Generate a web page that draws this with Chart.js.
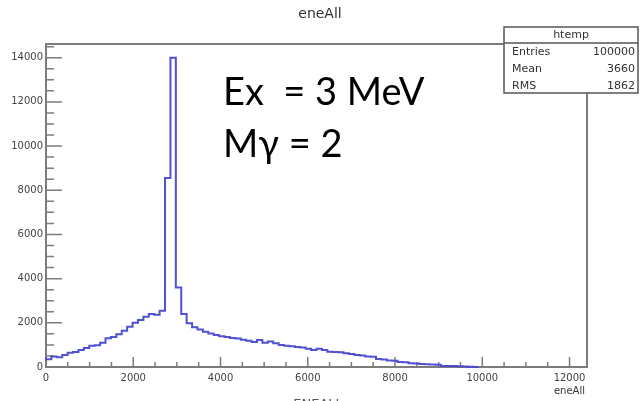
<!DOCTYPE html>
<html>
<head>
<meta charset="utf-8">
<script src="https://cdn.jsdelivr.net/npm/chart.js@4/dist/chart.umd.min.js"></script>
<style>
  html, body { margin: 0; padding: 0; background: #fff; }
  #wrap { position: relative; width: 640px; height: 401px; }
</style>
</head>
<body>
<div id="wrap"><canvas id="hist" width="640" height="401"></canvas></div>
<script>
// histogram of eneAll, bins of 124 starting at 0; axis runs to 12400
const binWidth = 124;
const xMax = 12400;
const yMax = 14620;
const counts = [
  440, 350, 470, 440, 540, 650, 680, 770, 860, 960,
  980, 1100, 1300, 1360, 1480, 1640, 1820, 2000, 2130, 2280,
  2400, 2370, 2550, 8550, 14000, 3600, 2400, 1980, 1800, 1700,
  1600, 1520, 1450, 1390, 1360, 1310, 1290, 1230, 1190, 1130,
  1220, 1100, 1150, 1070, 1000, 960, 940, 900, 880, 830,
  770, 830, 770, 690, 680, 670, 620, 590, 540, 520,
  470, 460, 360, 340, 290, 280, 230, 220, 170, 160,
  140, 130, 110, 100, 50, 45, 40, 35, 20, 10
];
const xTicks = [0, 2000, 4000, 6000, 8000, 10000, 12000];
const yTicks = [0, 2000, 4000, 6000, 8000, 10000, 12000, 14000];
const statsTitle = 'htemp';
const statsRows = [['Entries', '100000'], ['Mean', '3660'], ['RMS', '1862']];
const noteLines = ['Ex  = 3 MeV', 'M\u03b3 = 2'];
const histTitle = 'eneAll';
const xTitle = 'eneAll';

const points = counts.map((c, i) => ({x: i * binWidth, y: c}));
points.push({x: counts.length * binWidth, y: 0});

const rootFrame = {
  id: 'rootFrame',
  beforeDatasetsDraw(chart) {
    const {ctx, chartArea: {left, right, top, bottom}, scales: {x, y}} = chart;
    ctx.save();
    ctx.strokeStyle = '#7c7c7c';
    ctx.lineWidth = 2;
    ctx.strokeRect(left, top, right - left, bottom - top);
    ctx.lineWidth = 1.5;
    ctx.beginPath();
    for (let v = 0; v <= x.max; v += 500) {
      const px = x.getPixelForValue(v);
      const len = v % 2000 === 0 ? 10 : 5;
      ctx.moveTo(px, bottom);
      ctx.lineTo(px, bottom - len);
    }
    for (let v = 0; v <= y.max; v += 500) {
      const py = y.getPixelForValue(v);
      const len = v % 2000 === 0 ? 16 : 8;
      ctx.moveTo(left, py);
      ctx.lineTo(left + len, py);
    }
    ctx.stroke();
    ctx.restore();
  },
  afterDraw(chart) {
    const {ctx, chartArea: {right}} = chart;
    ctx.save();
    ctx.fillStyle = '#333';
    ctx.textBaseline = 'middle';

    // titles
    ctx.font = '14px "DejaVu Sans"';
    ctx.textAlign = 'center';
    ctx.fillText(histTitle, 320, 14);
    ctx.font = '10px "DejaVu Sans"';
    ctx.textAlign = 'right';
    ctx.fillText(xTitle, right - 2, 391);
    // axis title cut off by the bottom edge
    ctx.font = '13px "DejaVu Sans"';
    ctx.textAlign = 'center';
    ctx.textBaseline = 'top';
    ctx.fillStyle = '#555';
    ctx.fillText(xTitle.toUpperCase(), 318, 398);

    // stats box
    const bx = 504, by = 27, bw = 134, bh = 66;
    ctx.fillStyle = '#fff';
    ctx.fillRect(bx, by, bw, bh);
    ctx.strokeStyle = '#555';
    ctx.lineWidth = 1.5;
    ctx.strokeRect(bx, by, bw, bh);
    ctx.beginPath();
    ctx.moveTo(bx, by + 16);
    ctx.lineTo(bx + bw, by + 16);
    ctx.stroke();
    ctx.fillStyle = '#333';
    ctx.font = '11px "DejaVu Sans"';
    ctx.textBaseline = 'middle';
    ctx.textAlign = 'center';
    ctx.fillText(statsTitle, bx + bw / 2, by + 8);
    statsRows.forEach((row, i) => {
      const ry = by + 25 + i * 17;
      ctx.textAlign = 'left';
      ctx.fillText(row[0], bx + 8, ry);
      ctx.textAlign = 'right';
      ctx.fillText(row[1], bx + bw - 3, ry);
    });

    // annotation
    ctx.fillStyle = '#000';
    ctx.font = '38px Lato';
    ctx.textAlign = 'left';
    ctx.textBaseline = 'alphabetic';
    ctx.fillText(noteLines[0], 223, 105);
    ctx.fillText(noteLines[1], 223, 157);
    ctx.restore();
  }
};

new Chart(document.getElementById('hist'), {
  type: 'line',
  data: {
    datasets: [{
      label: 'htemp',
      data: points,
      stepped: 'after',
      borderColor: 'rgba(72, 72, 210, 0.95)',
      borderWidth: 2,
      pointRadius: 0,
      fill: false,
      clip: 4
    }]
  },
  options: {
    responsive: false,
    animation: false,
    devicePixelRatio: 1,
    layout: {padding: {top: 44, right: 53, bottom: 0, left: 0}},
    plugins: {legend: {display: false}, tooltip: {enabled: false}},
    scales: {
      x: {
        type: 'linear',
        min: 0,
        max: xMax,
        afterBuildTicks: s => { s.ticks = xTicks.map(v => ({value: v})); },
        afterFit: s => { s.height = 34; },
        ticks: {
          font: {family: 'DejaVu Sans', size: 10}, color: '#444', padding: 5,
          maxRotation: 0, autoSkip: false, callback: v => String(v)
        },
        grid: {display: false, drawTicks: false},
        border: {display: false}
      },
      y: {
        min: 0,
        max: yMax,
        afterBuildTicks: s => { s.ticks = yTicks.map(v => ({value: v})); },
        afterFit: s => { s.width = 46; },
        ticks: {
          font: {family: 'DejaVu Sans', size: 10}, color: '#444', padding: 3,
          autoSkip: false, callback: v => String(v)
        },
        grid: {display: false, drawTicks: false},
        border: {display: false}
      }
    }
  },
  plugins: [rootFrame]
});
</script>
</body>
</html>
